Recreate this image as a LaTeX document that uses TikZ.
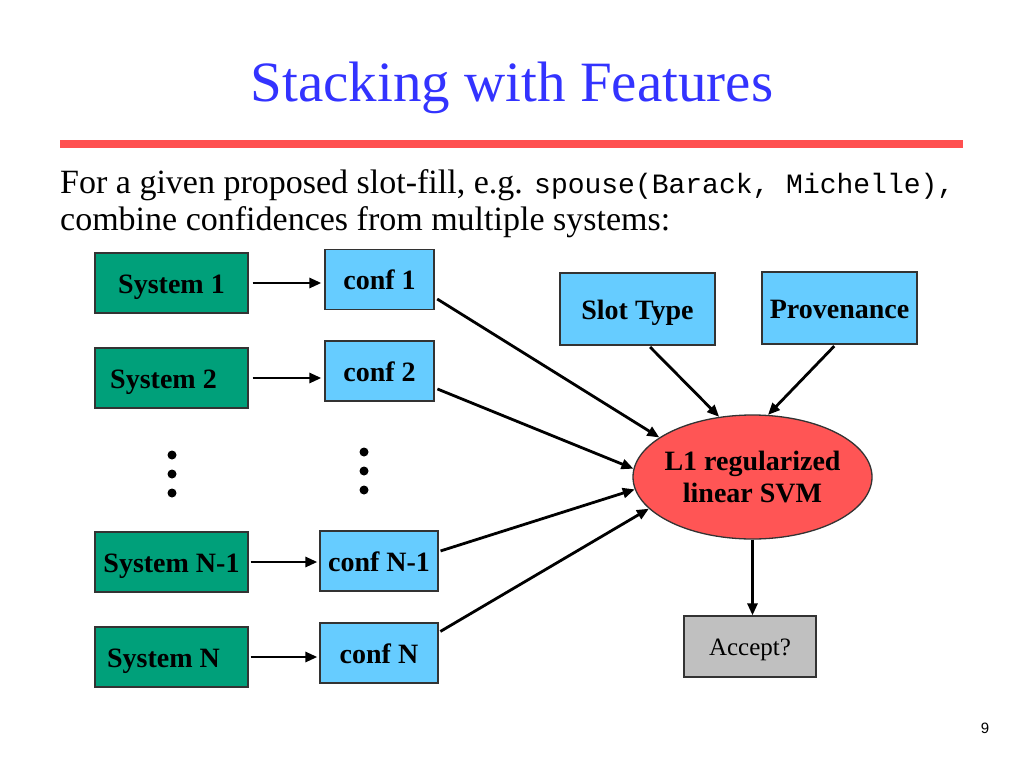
\documentclass[tikz,border=0pt]{standalone}
\usepackage{fontspec}
\setmainfont{Liberation Serif}
\setmonofont{Liberation Mono}
\setsansfont{Liberation Sans}
\usetikzlibrary{arrows.meta,shapes.geometric}
\definecolor{sysgreen}{RGB}{0,160,122}
\definecolor{confblue}{RGB}{102,204,255}
\definecolor{svmred}{RGB}{255,85,85}
\definecolor{rulered}{RGB}{255,80,80}
\definecolor{acceptgray}{RGB}{192,192,192}
\definecolor{titleblue}{RGB}{51,51,255}
\begin{document}
\begin{tikzpicture}[x=1pt,y=-1pt,
    box/.style={draw=black!80, line width=1.3pt, inner sep=0pt,
      font=\fontsize{28}{32}\selectfont\bfseries, text height=20pt, text depth=0pt},
    sysbox/.style={box, fill=sysgreen, minimum width=153pt, minimum height=60pt},
    confbox/.style={box, fill=confblue, minimum width=109pt, minimum height=60pt},
    wideconf/.style={confbox, minimum width=118pt},
    featbox/.style={box, fill=confblue, minimum width=155pt, minimum height=72pt},
    conn/.style={line width=2.8pt, -{Triangle[length=12pt,width=10pt]}}]
  \useasboundingbox (0,0) rectangle (1024,768);
  % title and rule
  \node[anchor=base, inner sep=0pt, text=titleblue, font=\fontsize{57}{60}\selectfont] (title) at (512,101) {Stacking with Features};
  \draw[line width=8pt, rulered] (60,144) -- (963,144);
  \node[anchor=base west, inner sep=0pt, font=\fontsize{34}{37}\selectfont] (intro) at (60,193)
    {For a given proposed slot-fill, e.g. {\fontsize{28}{30}\selectfont\ttfamily spouse(Barack, Michelle),}};
  \node[anchor=base west, inner sep=0pt, font=\fontsize{34}{37}\selectfont] (intro2) at (60,230)
    {combine confidences from multiple systems:};
  % systems and confidences
  \node[sysbox] (s1) at (171.5,283) {System 1};
  \node[sysbox] (s2) at (171.5,378) {System 2\hspace*{16pt}};
  \node[sysbox] (sN1) at (171.5,562) {System N-1};
  \node[sysbox] (sN) at (171.5,657) {System N\hspace*{16pt}};
  \node[confbox] (c1) at (379.5,279.5) {conf 1};
  \node[confbox] (c2) at (379.5,371) {conf 2};
  \node[wideconf] (cN1) at (379,561) {conf N-1};
  \node[wideconf] (cN) at (379,653) {conf N};
  \foreach \y in {455,474,493} \fill (172,\y) circle (4.5);
  \foreach \y in {452,471,490} \fill (364,\y) circle (4.5);
  % features and classifier
  \node[featbox] (slot) at (637.5,309) {Slot Type};
  \node[featbox] (prov) at (839.5,308) {Provenance};
  \node[ellipse, draw=black!80, line width=1.3pt, fill=svmred, minimum width=239pt, minimum height=124pt, inner sep=0pt] (svm) at (752.5,477) {};
  \node[align=center, inner sep=0pt, font=\fontsize{28}{32}\selectfont\bfseries] (svmtext) at (svm.center) {L1 regularized\\linear SVM};
  \node[draw=black!80, line width=1.3pt, fill=acceptgray, minimum width=132pt, minimum height=61pt, inner sep=0pt,
    font=\fontsize{25}{28}\selectfont, text height=17pt, text depth=0pt] (accept) at (750,646.5) {Accept?};
  \node[anchor=base, inner sep=0pt, font=\sffamily\fontsize{15}{18}\selectfont] (page) at (985,733) {9};
  % connectors
  \draw[conn, shorten <=4pt, shorten >=3pt] (s1.east) -- (s1.east -| c1.west);
  \draw[conn, shorten <=4pt, shorten >=3pt] (s2.east) -- (s2.east -| c2.west);
  \draw[conn, shorten <=2pt, shorten >=2pt] (sN1.east) -- (sN1.east -| cN1.west);
  \draw[conn, shorten <=2pt, shorten >=2pt] (sN.east) -- (sN.east -| cN.west);
  \draw[conn, shorten <=3pt] (c1.-18) -- (svm.157);
  \draw[conn, shorten <=3pt] (c2.-17) -- (svm.176.6);
  \draw[conn, shorten <=2pt] (cN1.9) -- (svm.186);
  \draw[conn, shorten <=2pt] (cN.19) -- (svm.197);
  \draw[conn, shorten <=2pt] (slot.-73) -- (svm.119.5);
  \draw[conn, shorten <=2pt] (prov.-96) -- (svm.76);
  \draw[conn] (svm.south) -- (svm.south |- accept.north);
\end{tikzpicture}
\end{document}
